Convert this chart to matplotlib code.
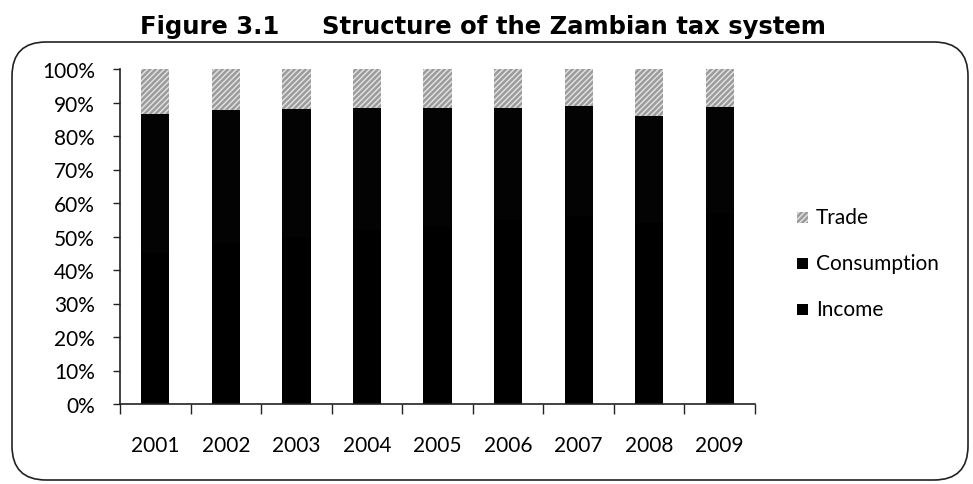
import matplotlib.pyplot as plt
from matplotlib.patches import FancyBboxPatch, Rectangle
from matplotlib.ticker import FixedLocator, PercentFormatter

# Shares of tax revenue (%)
years = ['2001', '2002', '2003', '2004', '2005', '2006', '2007', '2008', '2009']
income = [45.0, 48.0, 50.0, 52.0, 53.0, 55.0, 56.0, 54.0, 57.0]
consumption = [41.6, 39.9, 38.1, 36.4, 35.4, 33.4, 32.9, 31.9, 31.6]
trade = [13.4, 12.1, 11.9, 11.6, 11.6, 11.6, 11.1, 14.1, 11.4]

W, H = 973, 485
fig = plt.figure(figsize=(W / 100, H / 100), dpi=100)
plt.rcParams['hatch.linewidth'] = 1.0

# Rounded frame around the chart
frame = FancyBboxPatch((12 / W, 4 / H), 956 / W, 438 / H,
                       boxstyle='round,pad=0,rounding_size=0.035',
                       transform=fig.transFigure, fill=False,
                       edgecolor='#222222', linewidth=1.2, mutation_aspect=W / H)
fig.patches.append(frame)

# Title
fig.text(140 / W, 1 - 34 / H, 'Figure 3.1', fontsize=17.5, fontweight='bold',
         family='DejaVu Sans', ha='left', va='baseline')
fig.text(322 / W, 1 - 34 / H, 'Structure of the Zambian tax system', fontsize=17.5,
         fontweight='bold', family='DejaVu Sans', ha='left', va='baseline')

ax = fig.add_axes([120 / W, 80 / H, 635 / W, 335 / H])
x = range(len(years))
bottom2 = [a + b for a, b in zip(income, consumption)]
trade_face, trade_hatch = '#9c9c9c', '#e4e4e4'
ax.bar(x, income, width=0.4, color='black', linewidth=0)
ax.bar(x, consumption, width=0.4, bottom=income, color='#030303', linewidth=0)
ax.bar(x, trade, width=0.4, bottom=bottom2, color=trade_face,
       edgecolor=trade_hatch, hatch='//////', linewidth=0)

ax.set_xlim(-0.5, len(years) - 0.5)
ax.set_ylim(0, 100)
ax.set_yticks(range(0, 101, 10))
ax.yaxis.set_major_formatter(PercentFormatter(decimals=0))
ax.set_xticks(list(x))
ax.set_xticklabels(years)
ax.xaxis.set_minor_locator(FixedLocator([i - 0.5 for i in range(len(years) + 1)]))
ax.tick_params(axis='x', which='major', length=0, pad=22, labelsize=15)
ax.tick_params(axis='x', which='minor', length=7, direction='out', width=1, color='#222222')
ax.tick_params(axis='y', length=5, width=1, pad=13, labelsize=15, color='#222222')
for lab in ax.get_xticklabels() + ax.get_yticklabels():
    lab.set_family('Lato')
for s in ['top', 'right']:
    ax.spines[s].set_visible(False)
for s in ['left', 'bottom']:
    ax.spines[s].set_color('#222222')
    ax.spines[s].set_linewidth(1.2)

# Legend (top to bottom: Trade, Consumption, Income)
legend_items = [('Trade', trade_face, '//////'), ('Consumption', '#030303', None),
                ('Income', 'black', None)]
for i, (name, col, hatch) in enumerate(legend_items):
    yc = 1 - (218 + 46 * i) / H
    fig.patches.append(Rectangle((797 / W, yc - 5.5 / H), 11 / W, 11 / H,
                                 transform=fig.transFigure, facecolor=col,
                                 edgecolor=trade_hatch if hatch else col,
                                 hatch=hatch, linewidth=0))
    fig.text(816 / W, yc, name, fontsize=15, family='Lato', ha='left', va='center')

fig.savefig('out.png', dpi=100)
